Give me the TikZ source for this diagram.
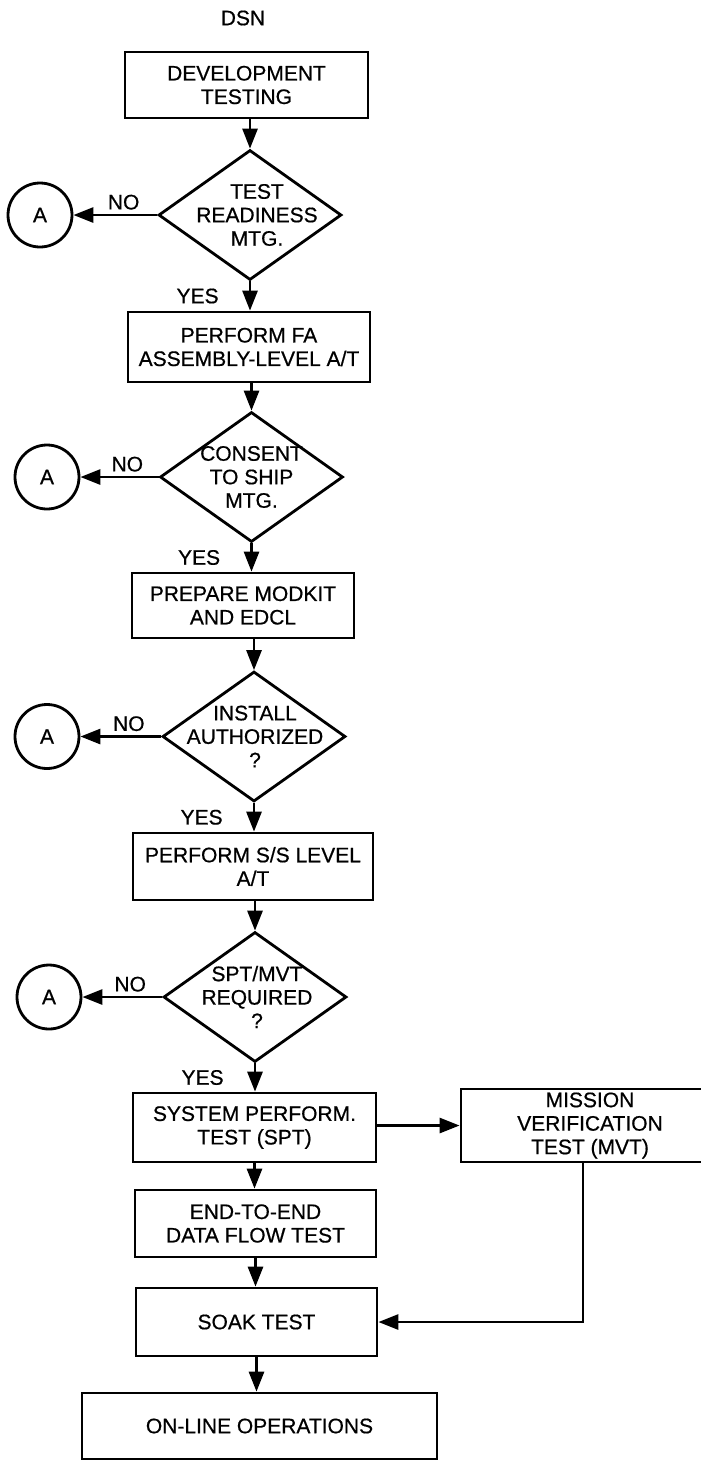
\documentclass[tikz,border=0pt]{standalone}
\usepackage{fontspec}
\setmainfont{Liberation Sans}[FakeBold=0.6]
\usetikzlibrary{arrows.meta,shapes.geometric,positioning}

\tikzset{
  stepbox/.style={draw, line width=2.8pt, align=center, inner sep=0pt},
  decision/.style={draw, diamond, line width=2.8pt, inner sep=0pt,
    minimum width=183pt, minimum height=130pt},
  connector/.style={draw, circle, line width=2.8pt, inner sep=0pt, minimum size=64pt},
  flow/.style={line width=2.8pt, arrows = -{Triangle[length=20pt,width=15pt]}},
  tag/.style={inner sep=0pt, align=center}
}

\begin{document}
\begin{tikzpicture}[x=1pt, y=-1pt, font=\fontsize{21pt}{23.5pt}\selectfont]
\useasboundingbox (0,0) rectangle (701,1468);

\node[tag] (dsn) at (243,18) {DSN};

% boxes of the main column
\node[stepbox, minimum width=243pt, minimum height=66pt] (dev) at (246.5,85) {DEVELOPMENT\\TESTING};
\node[stepbox, minimum width=242pt, minimum height=70pt] (fa) at (249,347) {PERFORM FA\\ASSEMBLY-LEVEL A/T};
\node[stepbox, minimum width=222pt, minimum height=65pt] (prep) at (243,605.5) {PREPARE MODKIT\\AND EDCL};
\node[stepbox, minimum width=240pt, minimum height=67pt] (ss) at (253,866.5) {PERFORM S/S LEVEL\\A/T};
\node[stepbox, minimum width=243pt, minimum height=69pt] (spt) at (254.5,1127.5) {SYSTEM PERFORM.\\TEST (SPT)};
\node[stepbox, minimum width=258pt, minimum height=73pt] (mvt) at (590,1125.5) {MISSION\\VERIFICATION\\TEST (MVT)};
\node[stepbox, minimum width=241pt, minimum height=67pt] (e2e) at (255.5,1223.5) {END-TO-END\\DATA FLOW TEST};
\node[stepbox, minimum width=241pt, minimum height=68pt] (soak) at (256.5,1322) {SOAK TEST};
\node[stepbox, minimum width=355pt, minimum height=66pt] (online) at (259.5,1426) {ON-LINE OPERATIONS};

% decisions, each with its NO exit to A
\foreach \n/\cx/\cy/\tx/\ax/\txt in {1/250/215/257/40/{TEST\\READINESS\\MTG.},
    2/251.5/477/251.5/47/{CONSENT\\TO SHIP\\MTG.},
    3/254/736.5/255/47/{INSTALL\\AUTHORIZED\\?},
    4/255/997/257/49/{SPT/MVT\\REQUIRED\\?}}{
  \node[decision] (d\n) at (\cx,\cy) {};
  \node[tag] (q\n) at (\tx,\cy) {\txt};
  \node[connector] (a\n) at (\ax,\cy) {A};
  \draw[flow] (d\n.west) -- node[tag, above=4pt, pos=0.4] (no\n) {NO} (a\n);
}

% flow down the column
\draw[flow] (dev.south -| d1.north) -- (d1.north);
\draw[flow] (d1.south) -- node[tag, left=30pt] (yes1) {YES} (d1.south |- fa.north);
\draw[flow] (fa.south -| d2.north) -- (d2.north);
\draw[flow] (d2.south) -- node[tag, left=30pt] (yes2) {YES} (d2.south |- prep.north);
\draw[flow] (prep.south -| d3.north) -- (d3.north);
\draw[flow] (d3.south) -- node[tag, left=30pt] (yes3) {YES} (d3.south |- ss.north);
\draw[flow] (ss.south -| d4.north) -- (d4.north);
\draw[flow] (d4.south) -- node[tag, left=30pt] (yes4) {YES} (d4.south |- spt.north);
\draw[flow] (spt.south) -- (spt.south |- e2e.north);
\draw[flow] (e2e.south) -- (e2e.south |- soak.north);
\draw[flow] (soak.south) -- (soak.south |- online.north);

% side branch through MVT
\draw[flow] (spt.east |- mvt.west) -- (mvt.west);
\draw[flow] (mvt.south -| 583,0) |- (soak.east);
\end{tikzpicture}
\end{document}
